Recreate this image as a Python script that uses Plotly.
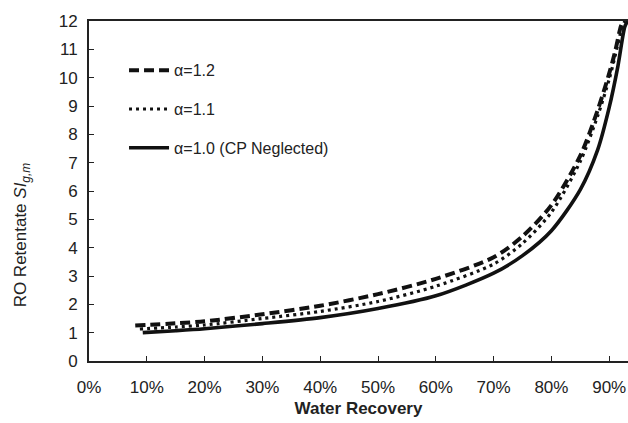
import plotly.graph_objects as go

# Water recovery (fraction) and retentate SI readings
rec_a12 = [0.08, 0.15, 0.2, 0.3, 0.4, 0.5, 0.6, 0.7, 0.75, 0.8, 0.85, 0.88, 0.9, 0.91, 0.92, 0.924]
si_a12  = [1.25, 1.33, 1.40, 1.65, 1.95, 2.36, 2.90, 3.66, 4.40, 5.50, 7.25, 8.85, 10.15, 10.9, 11.8, 12.0]

rec_a11 = [0.088, 0.15, 0.2, 0.3, 0.4, 0.5, 0.6, 0.7, 0.75, 0.8, 0.85, 0.88, 0.9, 0.91, 0.92, 0.927]
si_a11  = [1.13, 1.20, 1.27, 1.50, 1.75, 2.10, 2.64, 3.42, 4.15, 5.25, 7.05, 8.65, 9.95, 10.75, 11.6, 12.0]

rec_a10 = [0.093, 0.15, 0.2, 0.3, 0.4, 0.5, 0.6, 0.7, 0.75, 0.8, 0.85, 0.88, 0.9, 0.915, 0.927, 0.932]
si_a10  = [1.00, 1.07, 1.14, 1.32, 1.53, 1.85, 2.30, 3.10, 3.72, 4.60, 6.05, 7.45, 8.95, 10.4, 11.8, 12.0]

names = ["α=1.2", "α=1.1", "α=1.0 (CP Neglected)"]
x_ticks = [0, 0.1, 0.2, 0.3, 0.4, 0.5, 0.6, 0.7, 0.8, 0.9]
y_ticks = list(range(0, 13))
y_title = "RO Retentate <i>SI</i><sub><i>g,m</i></sub>"
x_title = "<b>Water Recovery</b>"

fig = go.Figure()
fig.add_trace(go.Scatter(x=rec_a12, y=si_a12, mode="lines", name=names[0], legendgroup="a",
                         line=dict(color="#111111", width=4, dash="10px,5px", shape="spline", smoothing=0.8)))
fig.add_trace(go.Scatter(x=rec_a11, y=si_a11, mode="lines", name=names[1], legendgroup="b",
                         line=dict(color="#111111", width=3.2, dash="3px,4px", shape="spline", smoothing=0.8)))
fig.add_trace(go.Scatter(x=rec_a10, y=si_a10, mode="lines", name=names[2], legendgroup="c",
                         line=dict(color="#111111", width=3.6, shape="spline", smoothing=0.8)))

fig.add_annotation(text=y_title, xref="paper", yref="paper", x=-0.124, y=0.37,
                   xanchor="center", yanchor="middle", textangle=-90, showarrow=False,
                   font=dict(size=17, color="#222222"))

fig.update_layout(
    width=628, height=423,
    margin=dict(l=89, r=0, t=21, b=62),
    paper_bgcolor="white", plot_bgcolor="white",
    font=dict(family="Liberation Sans, Arial, sans-serif", color="#222222", size=17),
    showlegend=True,
    legend=dict(x=0.065, y=0.905, xanchor="left", yanchor="top", bgcolor="rgba(0,0,0,0)",
                font=dict(size=16, color="#222222"), tracegroupgap=15, itemwidth=40),
    xaxis=dict(range=[0, 0.9325], tickvals=x_ticks, tickformat=".0%",
               showline=True, linecolor="#222222", linewidth=2, mirror=True,
               ticks="inside", ticklen=5, tickcolor="#222222", tickwidth=1,
               ticklabelstandoff=10,
               showgrid=False, zeroline=False,
               title=dict(text=x_title, font=dict(size=17), standoff=6)),
    yaxis=dict(range=[0, 12], tickvals=y_ticks,
               showline=True, linecolor="#222222", linewidth=2,
               ticks="inside", ticklen=5, tickcolor="#222222", tickwidth=1,
               ticklabelstandoff=6,
               showgrid=False, zeroline=False),
)

fig.write_html("out.html")
